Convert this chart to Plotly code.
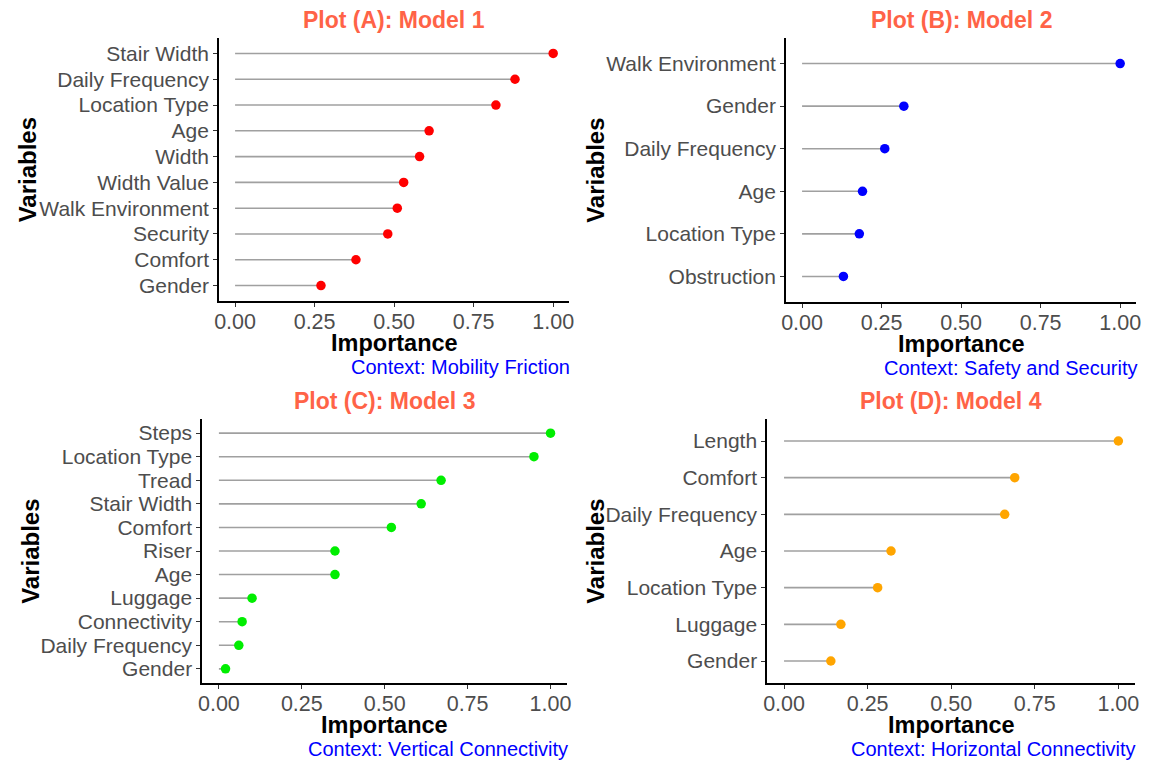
import plotly.graph_objects as go

# ---------------- data ----------------
vars_a = ["Stair Width", "Daily Frequency", "Location Type", "Age", "Width",
          "Width Value", "Walk Environment", "Security", "Comfort", "Gender"]
imp_a = [1.00, 0.88, 0.82, 0.61, 0.58, 0.53, 0.51, 0.48, 0.38, 0.27]

vars_b = ["Walk Environment", "Gender", "Daily Frequency", "Age",
          "Location Type", "Obstruction"]
imp_b = [1.00, 0.32, 0.26, 0.19, 0.18, 0.13]

vars_c = ["Steps", "Location Type", "Tread", "Stair Width", "Comfort", "Riser",
          "Age", "Luggage", "Connectivity", "Daily Frequency", "Gender"]
imp_c = [1.00, 0.95, 0.67, 0.61, 0.52, 0.35, 0.35, 0.10, 0.07, 0.06, 0.02]

vars_d = ["Length", "Comfort", "Daily Frequency", "Age", "Location Type",
          "Luggage", "Gender"]
imp_d = [1.00, 0.69, 0.66, 0.32, 0.28, 0.17, 0.14]

titles = ["Plot (A): Model 1", "Plot (B): Model 2", "Plot (C): Model 3", "Plot (D): Model 4"]
captions = ["Context: Mobility Friction", "Context: Safety and Security",
            "Context: Vertical Connectivity", "Context: Horizontal Connectivity"]
x_ticks = [0, 0.25, 0.5, 0.75, 1.0]
x_tick_labels = ["0.00", "0.25", "0.50", "0.75", "1.00"]

# ---------------- layout geometry (screen pixels) ----------------
OFF = 8                      # default page body margin
W, H = 1149 - OFF, 760 - OFF
FONT = "Liberation Sans, Arial, sans-serif"


def px(x):
    return (x - OFF) / W


def py(y):
    return 1 - (y - OFF) / H


panels = [
    dict(vars=vars_a, vals=imp_a, color="#FF0000", x0=216, x1=569, y0=38, y1=301),
    dict(vars=vars_b, vals=imp_b, color="#0000FF", x0=788, x1=1141, y0=38, y1=302),
    dict(vars=vars_c, vals=imp_c, color="#00EE00", x0=199, x1=567, y0=419, y1=683),
    dict(vars=vars_d, vals=imp_d, color="#FFA500", x0=769, x1=1140, y0=419, y1=683),
]
var_label_x = [23, 595, 25, 595]

fig = go.Figure()
annotations = []
layout_axes = {}

for i, p in enumerate(panels):
    n = i + 1
    xa = "x" if n == 1 else f"x{n}"
    ya = "y" if n == 1 else f"y{n}"
    sx, sy = [], []
    for v, val in zip(p["vars"], p["vals"]):
        sx += [0, val, None]
        sy += [v, v, None]
    fig.add_trace(go.Scatter(x=sx, y=sy, mode="lines", xaxis=xa, yaxis=ya,
                             line=dict(color="#A0A0A0", width=1.6),
                             showlegend=False, hoverinfo="skip"))
    fig.add_trace(go.Scatter(x=p["vals"], y=p["vars"], mode="markers", xaxis=xa, yaxis=ya,
                             marker=dict(color=p["color"], size=9.5),
                             showlegend=False))
    nc = len(p["vars"])
    xdom = [px(p["x0"]), px(p["x1"])]
    ydom = [py(p["y1"]), py(p["y0"])]
    axkey = "xaxis" if n == 1 else f"xaxis{n}"
    aykey = "yaxis" if n == 1 else f"yaxis{n}"
    layout_axes[axkey] = dict(
        domain=xdom, anchor=ya, range=[-0.05, 1.05],
        tickmode="array", tickvals=x_ticks, ticktext=x_tick_labels,
        showgrid=False, zeroline=False,
        showline=True, linecolor="black", linewidth=2,
        ticks="outside", ticklen=4, tickwidth=1.2, tickcolor="#333333",
        ticklabelstandoff=-4,
        tickfont=dict(family=FONT, size=21.5, color="#4D4D4D"),
    )
    layout_axes[aykey] = dict(
        domain=ydom, anchor=xa, type="category",
        categoryorder="array", categoryarray=list(reversed(p["vars"])),
        tickmode="array", tickvals=list(p["vars"]), ticktext=list(p["vars"]),
        range=[-0.6, nc - 0.4],
        showgrid=False, zeroline=False,
        showline=True, linecolor="black", linewidth=2,
        ticks="outside", ticklen=4, tickwidth=1.2, tickcolor="#333333",
        tickfont=dict(family=FONT, size=21, color="#4D4D4D"),
    )
    cx = (p["x0"] + p["x1"]) / 2
    annotations.append(dict(text=f"<b>{titles[i]}</b>", x=px(cx), y=py(p["y0"] - 18),
                            xref="paper", yref="paper", xanchor="center", yanchor="middle",
                            showarrow=False,
                            font=dict(family=FONT, size=23, color="#FF6347")))
    annotations.append(dict(text="<b>Importance</b>", x=px(cx), y=py(p["y1"] + 42),
                            xref="paper", yref="paper", xanchor="center", yanchor="middle",
                            showarrow=False,
                            font=dict(family=FONT, size=23.5, color="black")))
    annotations.append(dict(text=captions[i], x=px(p["x1"] + 3), y=py(p["y1"] + 66),
                            xref="paper", yref="paper", xanchor="right", yanchor="middle",
                            showarrow=False,
                            font=dict(family=FONT, size=20, color="#0000FF")))
    annotations.append(dict(text="<b>Variables</b>", x=px(var_label_x[i]),
                            y=py((p["y0"] + p["y1"]) / 2),
                            xref="paper", yref="paper", xanchor="center", yanchor="middle",
                            textangle=-90, showarrow=False,
                            font=dict(family=FONT, size=24, color="black")))

fig.update_layout(
    width=W, height=H,
    margin=dict(l=0, r=0, t=0, b=0),
    paper_bgcolor="white", plot_bgcolor="white",
    annotations=annotations,
    **layout_axes,
)

fig.write_html("out.html")
